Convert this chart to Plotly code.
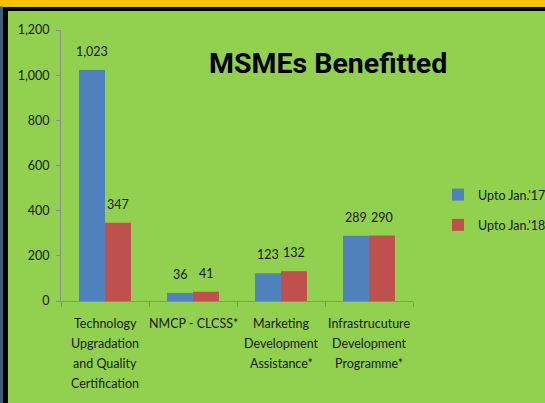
import plotly.graph_objects as go

categories = [
    "Technology<br>Upgradation<br>and Quality<br>Certification",
    "NMCP - CLCSS*",
    "Marketing<br>Development<br>Assistance*",
    "Infrastrucuture<br>Development<br>Programme*",
]
series_names = ["Upto Jan.'17", "Upto Jan.'18"]
values_17 = [1023, 36, 123, 289]
values_18 = [347, 41, 132, 290]
colors = ["#4F81BD", "#C0504D"]

GREEN = "#92D050"
FONT = "Lato"
TXT = "#1a1a1a"

fig = go.Figure()
for i, (name, vals) in enumerate(zip(series_names, [values_17, values_18])):
    fig.add_trace(go.Bar(
        x=categories, y=vals, name=name,
        marker=dict(color=colors[i], line=dict(width=0)),
        legendgroup=name,
    ))
    for c, v in zip(categories, vals):
        fig.add_annotation(
            x=c, y=v, xref="x", yref="y", text=f"{v:,}", showarrow=False,
            xshift=-13 if i == 0 else 13, yanchor="bottom", yshift=9,
            font=dict(family=FONT, size=12.5, color=TXT),
        )

# category labels, one annotation per line for Excel-like line spacing
for c in categories:
    for k, line in enumerate(c.split("<br>")):
        fig.add_annotation(
            x=c, y=0, xref="x", yref="y", text=line, showarrow=False,
            xanchor="center", yanchor="middle", yshift=-(22 + 20 * k),
            font=dict(family=FONT, size=12.5, color=TXT),
        )

L, R, T, B = 61, 132, 30, 102
W, H = 545, 403
pw, ph = W - L - R, H - T - B

def px(p):
    return (p - L) / pw

def py(p):
    return (H - B - p) / ph

shapes = [
    dict(type="rect", xref="paper", yref="paper", x0=px(0), x1=px(W), y0=py(6.5), y1=py(0),
         fillcolor="#FFC000", line=dict(width=0), layer="below"),
    dict(type="rect", xref="paper", yref="paper", x0=px(0), x1=px(3), y0=py(H), y1=py(6.5),
         fillcolor="#3d5f7a", line=dict(width=0), layer="below"),
    dict(type="rect", xref="paper", yref="paper", x0=px(3), x1=px(W), y0=py(11), y1=py(7),
         fillcolor="#000000", line=dict(width=0), layer="below"),
    dict(type="rect", xref="paper", yref="paper", x0=px(3), x1=px(8), y0=py(H), y1=py(7),
         fillcolor="#000000", line=dict(width=0), layer="below"),
]

fig.add_annotation(
    xref="paper", yref="paper", x=px(328), y=py(63), xanchor="center", yanchor="middle",
    text="<b>MSMEs Benefitted</b>",
    showarrow=False, font=dict(family="Roboto", size=28.5, color="#000000"),
)

fig.update_layout(
    width=W, height=H,
    margin=dict(l=L, r=R, t=T, b=B, autoexpand=False),
    paper_bgcolor=GREEN, plot_bgcolor=GREEN,
    barmode="group", bargap=0.41, bargroupgap=0,
    shapes=shapes,
    font=dict(family=FONT, size=12.5, color=TXT),
    showlegend=True,
    legend=dict(xref="container", yref="container", x=438 / W, y=1 - 180 / H,
                xanchor="left", yanchor="top",
                bgcolor="rgba(0,0,0,0)", font=dict(family=FONT, size=12.5, color=TXT),
                tracegroupgap=11, itemwidth=30),
    xaxis=dict(
        showline=True, linecolor="#8c8c8c", linewidth=1,
        ticks="outside", ticklen=5, tickcolor="#8c8c8c", tickson="boundaries",
        showgrid=False, showticklabels=False, fixedrange=True,
    ),
    yaxis=dict(
        range=[0, 1200], dtick=200, tickformat=",",
        showline=True, linecolor="#8c8c8c", linewidth=1,
        ticks="outside", ticklen=4, tickcolor="#8c8c8c",
        showgrid=False, zeroline=False, fixedrange=True, ticklabelstandoff=4,
        tickfont=dict(family=FONT, size=12.5, color=TXT),
    ),
)

fig.write_html(
    "out.html",
    config={"displayModeBar": False},
    post_script="document.body.style.margin='0';document.body.style.overflow='hidden';",
)
